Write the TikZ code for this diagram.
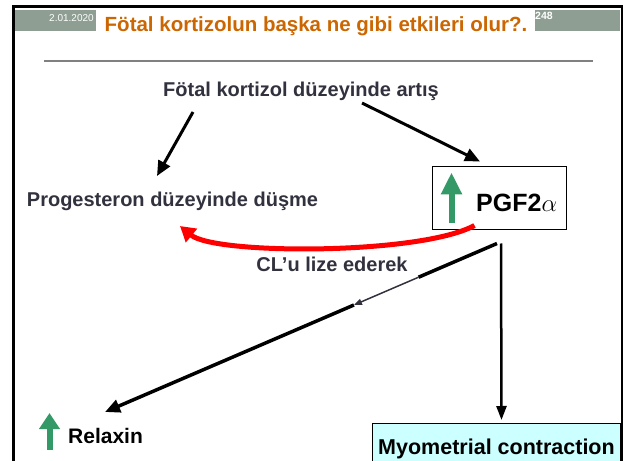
\documentclass[tikz,border=0pt]{standalone}
\usepackage{fontspec}
\setmainfont{Liberation Sans}
\usetikzlibrary{arrows.meta,calc}
\definecolor{titleorange}{RGB}{204,102,0}
\definecolor{headgray}{RGB}{142,158,146}
\definecolor{labelgray}{RGB}{50,50,62}
\definecolor{upgreen}{RGB}{51,153,102}
\definecolor{lightcyan}{RGB}{204,255,255}

\begin{document}
\begin{tikzpicture}[x=1bp,y=-1bp,
  lbl/.style={inner sep=0,text=labelgray,font=\fontsize{20bp}{24bp}\selectfont\bfseries},
  blk/.style={line width=3bp,-{Triangle[length=15bp,width=13bp]}},
  greenup/.style={upgreen,line width=6bp,-{Triangle[length=#1,width=20bp]}}]
\useasboundingbox (0,0) rectangle (623,461);

% slide frame
\fill[headgray] (15,10) rectangle (620,31);
\fill[white] (96,10) rectangle (535,31);
\draw[line width=3bp] (13.5,461) -- (13.5,6.5) -- (622,6.5) -- (622,461);
\draw[gray,line width=2bp] (44,61) -- (593,61);

\node[anchor=base,inner sep=0,text=titleorange,font=\fontsize{20.5bp}{24bp}\selectfont\bfseries] (title) at (316,32) {Fötal kortizolun başka ne gibi etkileri olur?.};
\node[anchor=base west,inner sep=0,text=white,font=\fontsize{10bp}{12bp}\selectfont] (date) at (49,22) {2.01.2020};
\node[anchor=base west,inner sep=0,text=white,font=\fontsize{10.5bp}{12bp}\selectfont\bfseries] (page) at (535,20) {248};

\node[lbl,anchor=base] (kort) at (301,97) {Fötal kortizol düzeyinde artış};
\node[lbl,anchor=base] (prog) at (172.5,207) {Progesteron düzeyinde düşme};
\node[lbl,anchor=base] (cl) at (332,272) {CL’u lize ederek};

\node[draw,line width=1bp,minimum width=134bp,minimum height=63bp] (pgfbox) at (499,198.5) {};
\node[anchor=base west,inner sep=0,font=\fontsize{25bp}{30bp}\selectfont\bfseries] (pgf) at (476,212) {PGF2$\alpha$};
\draw[greenup=22bp] ($(pgfbox.south west)+(20,-7)$) -- ($(pgfbox.north west)+(20,6)$);

\node[anchor=base west,inner sep=0,font=\fontsize{21bp}{24bp}\selectfont\bfseries] (relax) at (68,443) {Relaxin};
\draw[greenup=16bp] ($(relax.base west)+(-18.5,7)$) -- ($(relax.base west)+(-18.5,-30)$);

\node[draw,fill=lightcyan,line width=1bp,anchor=north west,minimum width=248bp,minimum height=50bp,inner sep=0,
  font=\fontsize{21.5bp}{24bp}\selectfont\bfseries] (myo) at (372,423) {Myometrial contraction};

\draw[blk] ($(kort.base)+(-108,15)$) -- ($(prog.base)+(-15.5,-31)$);
\draw[blk] ($(kort.base)+(61,6)$) -- ($(pgfbox.north)+(-19,-5)$);
\draw[red,line width=5bp,-{Triangle[length=15bp,width=17bp]}] ($(pgfbox.south west)+(43,-5)$)
  .. controls (420,255) and (215,255) .. ($(prog.base)+(7.5,19)$);

\coordinate (fork) at ($(pgfbox.south)+(-2,13)$);
\coordinate (rtip) at ($(relax.base west)+(37,-31)$);
\draw[line width=3.5bp] (fork) -- ($(fork)!0.2!(rtip)$);
\draw[labelgray,line width=1.5bp,-{Triangle[length=8bp,width=6bp]}] ($(fork)!0.2!(rtip)$) -- ($(fork)!0.365!(rtip)$);
\draw[blk,line width=3.5bp] ($(fork)!0.365!(rtip)$) -- (rtip);
\draw[line width=2.5bp,-{Triangle[length=14bp,width=10bp]}] ($(pgfbox.south)+(2,13)$) -- ($(myo.north)+(5,-3)$);
\end{tikzpicture}
\end{document}
